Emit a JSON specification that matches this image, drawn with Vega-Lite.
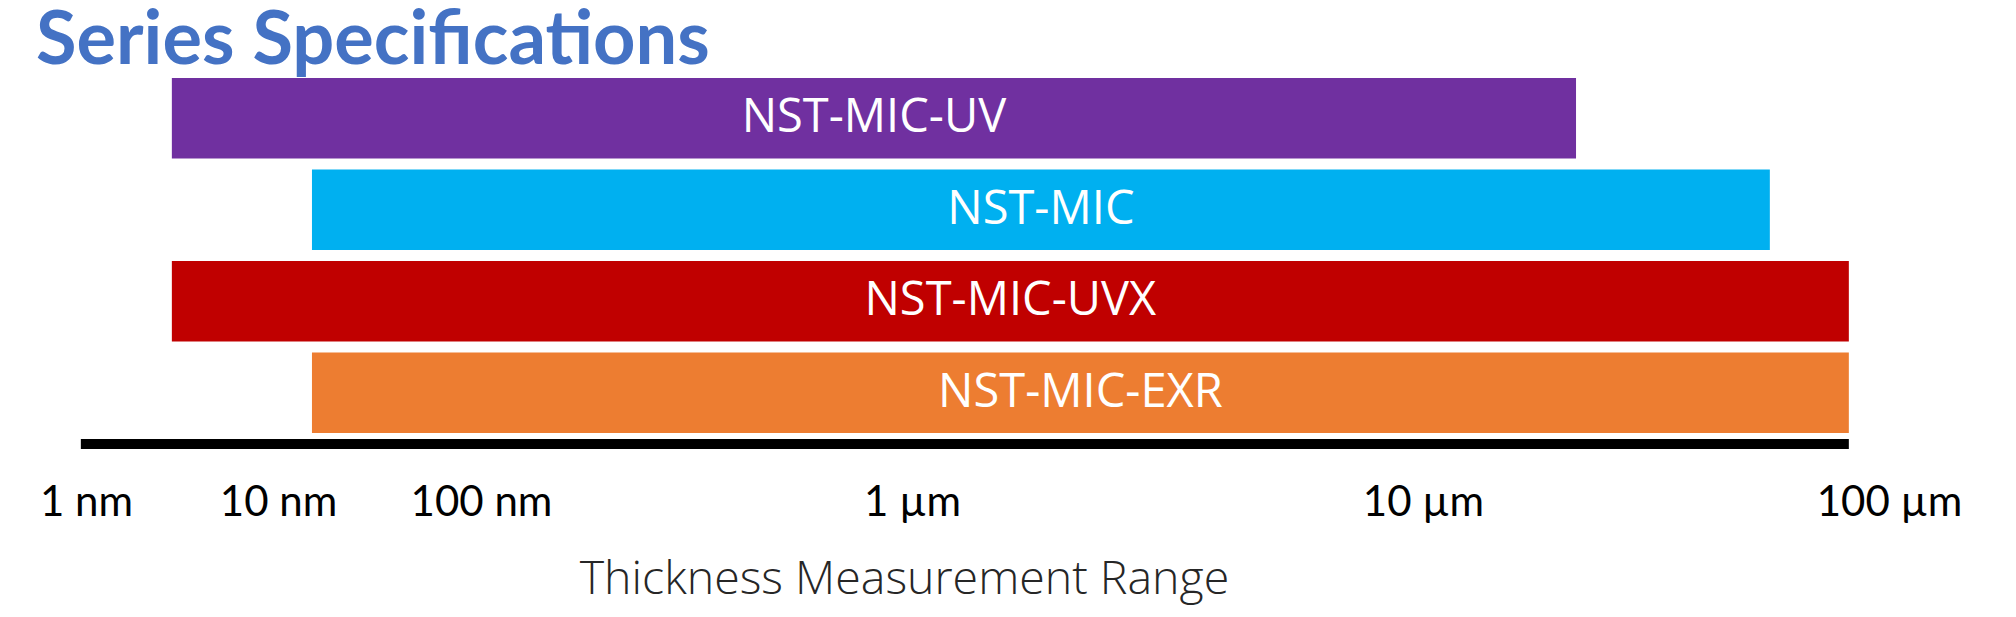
{
  "$schema": "https://vega.github.io/schema/vega-lite/v6.json",
  "width": 2016,
  "height": 379,
  "autosize": {"type": "none"},
  "padding": {"top": 70, "bottom": 168, "left": 0, "right": 0},
  "background": "white",
  "config": {"view": {"stroke": null}},
  "title": {
    "text": "Series Specifications",
    "anchor": "start",
    "frame": "group",
    "font": "Lato",
    "fontSize": 74,
    "fontWeight": "bold",
    "color": "#4472C4",
    "baseline": "alphabetic",
    "offset": 5,
    "dx": 36,
    "dy": 73
  },
  "datasets": {
    "ranges": [
      {"series": "NST-MIC-UV", "start": 2.8, "end": 21300},
      {"series": "NST-MIC", "start": 14.7, "end": 55500},
      {"series": "NST-MIC-UVX", "start": 2.8, "end": 82000},
      {"series": "NST-MIC-EXR", "start": 14.7, "end": 82000}
    ],
    "axisline": [{"start": 0.94, "end": 82000}]
  },
  "layer": [
    {
      "data": {"name": "ranges"},
      "mark": {"type": "bar"},
      "encoding": {
        "x": {
          "field": "start",
          "type": "quantitative",
          "scale": {
            "type": "log",
            "domain": [1, 10, 100, 1000, 10000, 100000],
            "range": [86, 278, 481, 912, 1423, 1889],
            "nice": false
          },
          "axis": {
            "values": [1, 10, 100, 1000, 10000, 100000],
            "labelExpr": "datum.value == 1 ? '1 nm' : datum.value == 10 ? '10 nm' : datum.value == 100 ? '100 nm' : datum.value == 1000 ? '1 µm' : datum.value == 10000 ? '10 µm' : '100 µm'",
            "domain": false,
            "ticks": false,
            "grid": false,
            "labelFont": "Lato",
            "labelFontSize": 42,
            "labelColor": "#000000",
            "labelBaseline": "alphabetic",
            "labelAlign": "center",
            "labelPadding": 66,
            "labelFlush": false,
            "labelOverlap": false,
            "labelBound": false,
            "title": "Thickness Measurement Range",
            "titleFont": "Open Sans",
            "titleFontWeight": 300,
            "titleFontSize": 46.5,
            "titleColor": "#262626",
            "titleBaseline": "alphabetic",
            "titleAlign": "center",
            "titleAnchor": "start",
            "titleX": 904,
            "titleY": 144
          }
        },
        "x2": {"field": "end"},
        "y": {
          "field": "series",
          "type": "nominal",
          "scale": {
            "type": "band",
            "domain": ["NST-MIC-UV", "NST-MIC", "NST-MIC-UVX", "NST-MIC-EXR"],
            "range": [8, 363],
            "paddingInner": 0.12,
            "paddingOuter": 0
          },
          "axis": null
        },
        "color": {
          "field": "series",
          "type": "nominal",
          "scale": {
            "domain": ["NST-MIC-UV", "NST-MIC", "NST-MIC-UVX", "NST-MIC-EXR"],
            "range": ["#7030A0", "#00B0F0", "#C00000", "#ED7D31"]
          },
          "legend": null
        }
      }
    },
    {
      "data": {"name": "ranges"},
      "mark": {
        "type": "text",
        "font": "Open Sans",
        "fontSize": 47,
        "color": "#FFFFFF",
        "baseline": "middle",
        "align": "center"
      },
      "encoding": {
        "x": {"value": {"expr": "(scale('x', datum.start) + scale('x', datum.end)) / 2"}},
        "y": {"field": "series", "type": "nominal"},
        "text": {"field": "series"}
      }
    },
    {
      "data": {"name": "axisline"},
      "mark": {"type": "rule", "color": "#000000", "strokeWidth": 10},
      "encoding": {
        "x": {"field": "start", "type": "quantitative"},
        "x2": {"field": "end"},
        "y": {"datum": "NST-MIC-EXR", "type": "nominal", "bandPosition": 1.137}
      }
    }
  ]
}
